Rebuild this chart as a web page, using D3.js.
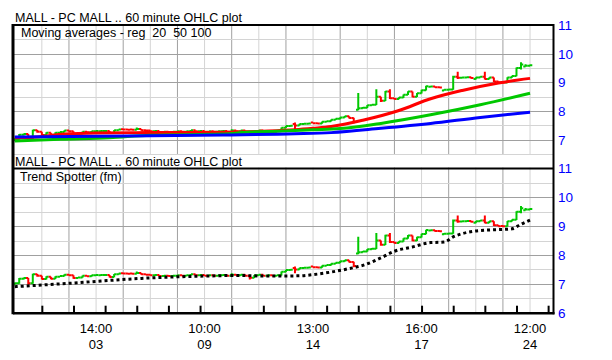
<!DOCTYPE html>
<html>
<head>
<meta charset="utf-8">
<script src="https://cdn.jsdelivr.net/npm/d3@7"></script>
<style>
  body { margin: 0; background: #fff; }
  svg text { font-family: "Liberation Sans", Arial, sans-serif; }
</style>
</head>
<body>
<script>
// hourly bars, 10:00 .. 16:00, Feb 1 .. Feb 24
const labelBars = [18, 42, 66, 90, 114];
const labelTimes = ['14:00', '10:00', '13:00', '16:00', '12:00'];
const labelDays = ['03', '09', '14', '17', '24'];
const dayTicks = [6, 13, 20, 27, 34, 41, 48, 55, 62, 69, 76, 83, 90, 97, 104, 111, 118];
const priceTicks = [6, 7, 8, 9, 10, 11];

const opens = [
  6.98, 7.02, 7.18, 7.20, 7.02, 7.33, 7.28, 7.17, 7.25, 7.18,
  7.25, 7.27, 7.32, 7.30, 7.20, 7.22, 7.28, 7.26, 7.30, 7.30,
  7.31, 7.31, 7.24, 7.33, 7.37, 7.36, 7.36, 7.35, 7.38, 7.33,
  7.32, 7.30, 7.31, 7.27, 7.28, 7.27, 7.28, 7.30, 7.28, 7.30,
  7.33, 7.30, 7.31, 7.28, 7.30, 7.28, 7.30, 7.31, 7.28, 7.32,
  7.30, 7.32, 7.28, 7.21, 7.30, 7.32, 7.28, 7.30, 7.28, 7.30,
  7.42, 7.48, 7.55, 7.50, 7.55, 7.56, 7.60, 7.58, 7.57, 7.63,
  7.65, 7.70, 7.73, 7.78, 7.82, 7.76, 8.05, 8.10, 8.12, 8.20,
  8.22, 8.50, 8.36, 8.68, 8.45, 8.42, 8.47, 8.57, 8.68, 8.50,
  8.62, 8.73, 8.85, 8.86, 8.83, 8.72, 8.74, 8.75, 9.20, 9.16,
  9.17, 9.18, 9.12, 9.17, 9.20, 9.12, 9.17, 9.03, 9.01, 9.00,
  9.17, 9.22, 9.50, 9.55, 9.58
];
const highs = [
  7.05, 7.20, 7.22, 7.20, 7.35, 7.34, 7.28, 7.26, 7.25, 7.26,
  7.28, 7.33, 7.33, 7.30, 7.23, 7.29, 7.28, 7.31, 7.32, 7.32,
  7.32, 7.31, 7.34, 7.37, 7.38, 7.37, 7.37, 7.43, 7.38, 7.34,
  7.33, 7.31, 7.31, 7.29, 7.28, 7.29, 7.31, 7.30, 7.31, 7.34,
  7.33, 7.31, 7.31, 7.31, 7.30, 7.31, 7.32, 7.31, 7.37, 7.32,
  7.33, 7.32, 7.29, 7.31, 7.33, 7.32, 7.31, 7.30, 7.31, 7.43,
  7.49, 7.50, 7.60, 7.56, 7.57, 7.58, 7.61, 7.59, 7.64, 7.66,
  7.71, 7.74, 7.79, 7.83, 7.82, 7.77, 8.63, 8.14, 8.21, 8.24,
  8.76, 8.50, 8.70, 8.76, 8.46, 8.48, 8.58, 8.69, 8.68, 8.63,
  8.74, 8.88, 8.88, 8.86, 8.84, 8.76, 8.77, 9.23, 9.37, 9.18,
  9.19, 9.18, 9.18, 9.21, 9.37, 9.18, 9.17, 9.04, 9.02, 9.18,
  9.23, 9.52, 9.70, 9.63, 9.62
];
const lows = [
  6.97, 7.00, 7.15, 6.97, 7.00, 7.25, 7.15, 7.15, 7.16, 7.17,
  7.24, 7.26, 7.28, 7.18, 7.19, 7.21, 7.25, 7.25, 7.29, 7.29,
  7.29, 7.22, 7.23, 7.32, 7.35, 7.34, 7.34, 7.34, 7.32, 7.31,
  7.29, 7.28, 7.26, 7.26, 7.26, 7.26, 7.27, 7.27, 7.27, 7.29,
  7.29, 7.29, 7.27, 7.27, 7.27, 7.27, 7.29, 7.27, 7.27, 7.29,
  7.29, 7.27, 7.15, 7.20, 7.29, 7.27, 7.27, 7.27, 7.27, 7.29,
  7.41, 7.47, 7.37, 7.49, 7.54, 7.55, 7.57, 7.56, 7.56, 7.62,
  7.64, 7.69, 7.72, 7.77, 7.74, 7.58, 8.03, 8.09, 8.11, 8.19,
  8.21, 8.32, 8.35, 8.42, 8.40, 8.41, 8.46, 8.56, 8.48, 8.49,
  8.61, 8.72, 8.84, 8.81, 8.80, 8.71, 8.73, 8.74, 9.12, 9.15,
  9.16, 9.13, 9.10, 9.16, 9.10, 9.11, 9.01, 8.99, 8.98, 8.99,
  9.16, 9.21, 9.45, 9.55, 9.57
];
const closes = [
  7.02, 7.18, 7.20, 7.02, 7.33, 7.28, 7.17, 7.25, 7.18, 7.25,
  7.27, 7.32, 7.30, 7.20, 7.22, 7.28, 7.26, 7.30, 7.31, 7.31,
  7.31, 7.24, 7.33, 7.36, 7.36, 7.35, 7.35, 7.38, 7.33, 7.32,
  7.30, 7.31, 7.27, 7.28, 7.27, 7.28, 7.30, 7.28, 7.30, 7.33,
  7.30, 7.31, 7.28, 7.30, 7.28, 7.30, 7.31, 7.28, 7.32, 7.30,
  7.32, 7.28, 7.21, 7.30, 7.32, 7.28, 7.30, 7.28, 7.30, 7.42,
  7.48, 7.49, 7.50, 7.55, 7.56, 7.57, 7.58, 7.57, 7.63, 7.65,
  7.70, 7.73, 7.78, 7.82, 7.76, 7.62, 8.10, 8.12, 8.20, 8.22,
  8.50, 8.36, 8.68, 8.45, 8.42, 8.47, 8.57, 8.68, 8.50, 8.62,
  8.73, 8.87, 8.86, 8.83, 8.82, 8.74, 8.75, 9.20, 9.16, 9.17,
  9.18, 9.15, 9.17, 9.20, 9.12, 9.17, 9.03, 9.00, 9.00, 9.17,
  9.22, 9.50, 9.62, 9.58, 9.60
];

// moving averages, read at a few bars
const ma20Bars = [0, 5, 11, 18, 27, 46, 55, 62, 66, 70, 77, 85, 92, 99, 107, 114];
const ma20 = [7.06, 7.10, 7.20, 7.24, 7.25, 7.26, 7.30, 7.35, 7.40, 7.46, 7.68, 8.02, 8.43, 8.72, 8.98, 9.14];
const ma50Bars = [0, 10, 21, 30, 46, 52, 58, 66, 72, 81, 92, 103, 114];
const ma50 = [6.96, 7.02, 7.07, 7.16, 7.20, 7.27, 7.30, 7.35, 7.39, 7.57, 7.87, 8.22, 8.62];
const ma100Bars = [0, 25, 46, 62, 70, 81, 92, 103, 114];
const ma100 = [7.10, 7.13, 7.17, 7.21, 7.25, 7.40, 7.57, 7.78, 7.96];

// trend spotter
const trendBars = [0, 7, 14, 21, 28, 35, 42, 49, 56, 63, 66, 70, 74, 77, 81, 84, 88, 92, 95, 97, 100, 103, 107, 110, 112, 114];
const trend = [6.90, 6.97, 7.04, 7.12, 7.19, 7.24, 7.27, 7.29, 7.27, 7.28, 7.32, 7.41, 7.53, 7.64, 7.90, 8.13, 8.28, 8.43, 8.45, 8.63, 8.78, 8.85, 8.88, 8.91, 9.07, 9.21];

const width = 612;
const height = 360;
const left = 13;
const right = 553.5;
const panels = [
  { top: 25, bottom: 168.5 },
  { top: 168.5, bottom: 312.7 },
];
const green = '#00c800';
const red = '#ff0000';

const svg = d3.select('body')
  .append('svg')
    .attr('width', width)
    .attr('height', height)
    .attr('viewBox', [0, 0, width, height].join(' '));

const x = d3.scaleLinear()
  .domain([-0.6, 119.3])
  .range([12, 554]);

const half = (x(1) - x(0)) / 2;

const drawPanel = (p, labels) => {

  const y = d3.scaleLinear()
    .domain([6, 11])
    .range([p.bottom, p.top]);

  const g = svg.append('g');

  const vLines = d3.range(6, 120, 6);
  g.selectAll('.vgrid')
    .data(vLines)
    .enter()
      .append('line')
      .attr('x1', d => x(d))
      .attr('x2', d => x(d))
      .attr('y1', p.top)
      .attr('y2', p.bottom)
      .attr('stroke', d => d % 12 === 0 ? '#a0a0a0' : '#d4d4d4')
      .attr('stroke-width', 1);

  const hLines = d3.range(6.5, 11, 0.5);
  g.selectAll('.hgrid')
    .data(hLines)
    .enter()
      .append('line')
      .attr('x1', left)
      .attr('x2', right)
      .attr('y1', d => Math.round(y(d)) + 0.5)
      .attr('y2', d => Math.round(y(d)) + 0.5)
      .attr('stroke', d => d % 1 === 0 ? '#a0a0a0' : '#d4d4d4')
      .attr('stroke-width', 1);

  const axis = d3.axisRight(y)
    .tickValues(labels)
    .tickSize(0)
    .tickPadding(4)
    .tickFormat(d3.format('d'));

  g.append('g')
      .attr('transform', `translate(${right + 0.5},0)`)
      .call(axis)
      .call(a => a.select('.domain').remove())
      .call(a => a.selectAll('text')
        .attr('fill', '#0000ff')
        .style('font-size', '13.5px')
        .style('font-family', '"Liberation Sans", Arial, sans-serif'));

  return { g, y };
};

const bars = (g, y) => {
  g.append('g')
    .selectAll('path')
    .data(closes)
    .enter()
      .append('path')
      .attr('fill', 'none')
      .attr('stroke', (d, i) => d >= opens[i] ? green : red)
      .attr('stroke-width', 2)
      .attr('d', (d, i) => {
        const cx = x(i);
        return `M${cx},${y(highs[i])}V${y(lows[i])}` +
          `M${cx - half},${y(opens[i])}H${cx}` +
          `M${cx},${y(d)}H${cx + half}`;
      });
};

const line = (y, bx) => d3.line()
  .curve(d3.curveMonotoneX)
  .x((d, i) => x(bx[i]))
  .y((d) => y(d));

// upper panel: price + moving averages
const upper = drawPanel(panels[0], [7, 8, 9, 10, 11]);
bars(upper.g, upper.y);

[[ma20, ma20Bars, red], [ma50, ma50Bars, green], [ma100, ma100Bars, '#0000ff']]
  .forEach(([vals, bx, c]) => {
    upper.g.append('path')
      .attr('fill', 'none')
      .attr('stroke', c)
      .attr('stroke-width', 3)
      .attr('d', line(upper.y, bx)(vals));
  });

// lower panel: price + trend spotter
const lower = drawPanel(panels[1], priceTicks);
bars(lower.g, lower.y);

lower.g.append('path')
  .attr('fill', 'none')
  .attr('stroke', '#000')
  .attr('stroke-width', 3)
  .attr('stroke-dasharray', '3,3')
  .attr('d', line(lower.y, trendBars)(trend));

// header band of the lower chart
svg.append('rect')
  .attr('x', left + 1)
  .attr('y', 155)
  .attr('width', right - left - 2)
  .attr('height', 12.5)
  .attr('fill', '#fff');

// frame
const frame = svg.append('g').attr('stroke', '#000').attr('fill', 'none');
frame.append('line').attr('x1', left).attr('x2', left).attr('y1', panels[0].top - 1).attr('y2', panels[1].bottom + 1.5).attr('stroke-width', 3);
frame.append('line').attr('x1', right).attr('x2', right).attr('y1', panels[0].top - 1).attr('y2', panels[1].bottom + 1.5).attr('stroke-width', 2);
frame.append('line').attr('x1', left).attr('x2', right).attr('y1', panels[0].top).attr('y2', panels[0].top).attr('stroke-width', 2);
frame.append('line').attr('x1', left).attr('x2', right).attr('y1', panels[0].bottom).attr('y2', panels[0].bottom).attr('stroke-width', 2);
frame.append('line').attr('x1', left).attr('x2', right + 1).attr('y1', panels[1].bottom + 0.5).attr('y2', panels[1].bottom + 0.5).attr('stroke-width', 2.5);

// day ticks inside the lower frame
const xAxis = d3.axisBottom(x)
  .tickValues(dayTicks)
  .tickSizeInner(-7)
  .tickSizeOuter(0)
  .tickFormat('');

svg.append('g')
    .attr('transform', `translate(0,${panels[1].bottom})`)
    .call(xAxis)
    .call(a => a.select('.domain').remove())
    .call(a => a.selectAll('line').attr('stroke', '#000').attr('stroke-width', 2));

// time / day labels
const lab = svg.append('g')
  .attr('text-anchor', 'middle')
  .style('font-size', '13px');

lab.selectAll('.t')
  .data(labelBars)
  .enter()
    .append('text')
    .attr('x', d => x(d))
    .attr('y', 333)
    .text((d, i) => labelTimes[i]);

lab.selectAll('.d')
  .data(labelBars)
  .enter()
    .append('text')
    .attr('x', d => x(d))
    .attr('y', 349)
    .text((d, i) => labelDays[i]);

// titles
const titles = svg.append('g').style('font-size', '12.5px');
const title = (tx, ty, s) => titles.append('text')
  .attr('x', tx)
  .attr('y', ty)
  .attr('xml:space', 'preserve')
  .style('white-space', 'pre')
  .text(s);

title(15, 21.5, 'MALL - PC MALL .. 60 minute OHLC plot');
title(21, 37, 'Moving averages - reg  20  50 100');
title(15, 166, 'MALL - PC MALL .. 60 minute OHLC plot');
title(20, 180.5, 'Trend Spotter (fm)');
</script>
</body>
</html>
